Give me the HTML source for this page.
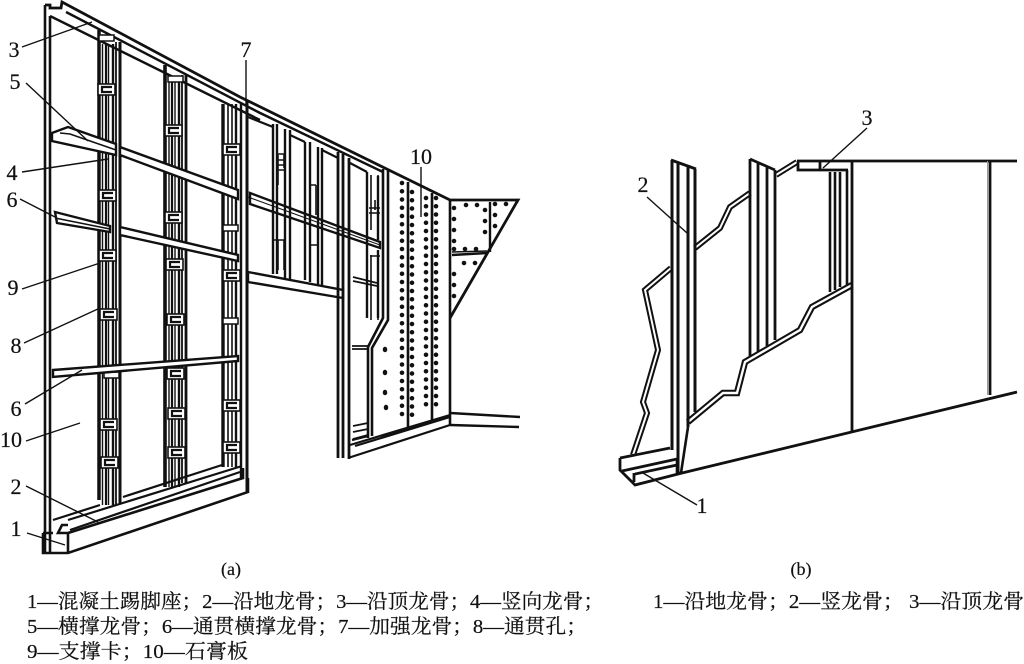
<!DOCTYPE html>
<html><head><meta charset="utf-8"><style>
html,body{margin:0;padding:0;background:#fff}
svg{display:block}
text{font-family:"Liberation Serif","Noto Serif CJK SC",serif;fill:#111;stroke:#111;stroke-width:.2}
</style></head><body>
<svg width="1024" height="664" viewBox="0 0 1024 664" xmlns="http://www.w3.org/2000/svg">
<defs>
<g id="c"><rect x="0" y="0" width="17" height="11" fill="#fff" stroke="#111" stroke-width="1.6"/><path d="M14 3H4V8H14" fill="none" stroke="#111" stroke-width="2.2"/></g>
<g id="d"><rect x="0" y="0" width="15" height="6" fill="#fff" stroke="#111" stroke-width="1.5"/></g>
</defs>
<rect width="1024" height="664" fill="#fff"/>
<g fill="none" stroke="#111">
<!-- left wall edge and top -->
<path d="M45 5V553M50 16V552" stroke-width="2.6"/>
<path d="M45 5H50V8H61L62 2L240 97L450 200H518L450 318" stroke-width="2.8"/>
<path d="M66 12L260 113L383 172" stroke-width="2.4"/>
<path d="M50 16L260 120" stroke-width="2.4"/>
<!-- stud 1 -->
<path d="M99 30V500" stroke-width="3.5"/><path d="M102.5 44V505M108.5 44V505" stroke-width="1.4"/><path d="M106 44V505" stroke-width="2.2"/><path d="M113 44V505" stroke-width="2.4"/><path d="M116 42V505" stroke-width="1.8"/><path d="M120 42V503" stroke-width="3"/>
<!-- stud 2 -->
<path d="M165 65V487" stroke-width="3.6"/><path d="M169 80V487M175 80V487" stroke-width="1.4"/><path d="M172 80V487" stroke-width="2.2"/><path d="M179 80V487" stroke-width="2.4"/><path d="M182 75V483" stroke-width="1.8"/><path d="M186 75V483" stroke-width="2.8"/>
<!-- stud 3 -->
<path d="M223 104V467" stroke-width="3.4"/><path d="M228 104V467M232 104V467" stroke-width="1.6"/><path d="M236 104V467" stroke-width="2.4"/><path d="M241 104V478" stroke-width="2.4"/><path d="M247 100V492" stroke-width="3"/>
</g>
<!-- clips -->
<use href="#d" x="99" y="35"/><use href="#c" x="98" y="84"/><use href="#c" x="99" y="190"/><use href="#c" x="99" y="250"/><use href="#c" x="100" y="309"/><use href="#d" x="104" y="372"/><use href="#c" x="100" y="419"/><use href="#c" x="101" y="457"/>
<use href="#d" x="168" y="76"/><use href="#c" x="165" y="125"/><use href="#c" x="165" y="212"/><use href="#c" x="166" y="259"/><use href="#c" x="167" y="314"/><use href="#c" x="167" y="368"/><use href="#c" x="168" y="408"/><use href="#c" x="168" y="447"/>
<use href="#c" x="223" y="144"/><use href="#d" x="223" y="225"/><use href="#c" x="223" y="270"/><use href="#d" x="223" y="318"/><use href="#c" x="223" y="400"/><use href="#c" x="223" y="442"/>
<!-- horizontal bars -->
<g fill="#fff" stroke="#111" stroke-width="2.4">
<path d="M68 127L116 144V155L52 141V133Z"/>
<path d="M120 147L238 190V199L120 155Z"/>
<path d="M55 212L110 226V232L57 223Z"/>
<path d="M120 227L238 255V261L120 235Z"/>
<path d="M53 370L238 356V361L53 377Z"/>
<path d="M250 193L380 242V248L250 204Z"/>
<path d="M248 272L343 290V298L248 282Z"/>
</g>
<g fill="none" stroke="#111">
<path d="M60 133L70 134L116 150M55 218L110 229" stroke-width="1.6"/>
<path d="M248 197L380 245" stroke-width="1"/>
<!-- bottom base -->
<path d="M43 533V553H68L248 492V478M68 553V533L243 478V468M43 533H53M68 533H58L62 525H68" stroke-width="2.6"/>
<path d="M53 520L100 505M123 497L222 465M68 520L242 466M70 530L240 472" stroke-width="2.2"/>
<!-- frame right -->
<g stroke-width="2.4">
<path d="M248 107L383 172" stroke-width="2"/>
<path d="M248 117L273 127M290 135L305 142M322 150L338 158M350 163L367 172" stroke-width="2.2"/>
<path d="M273 124V274M277 124V274M285 129V278M290 130V280M305 142V280M310 142V282M318 147V285M322 148V286"/>
<path d="M338 152V458M343 154V458" stroke-width="2.8"/><path d="M349 158V459" stroke-width="2.8"/>
<path d="M367 172V318M378 176V240M378 250V318"/>
<path d="M278 154H284V168M278 155V185M284 155V168M278 158V178M277 160H285M277 165H285M277 170H285M273 240H285M278 240V270M284 240V270" stroke-width="1.6"/>
<path d="M310 185H316M310 185V215M316 185V215M310 232V260M318 232V260M310 245H318" stroke-width="1.6"/>
<path d="M371 175V230M371 255V320M378 175V230M378 260V320M369 208H380M369 213H380M370 256H380M375 200V210" stroke-width="1.6"/>
<path d="M353 277L377 283M353 281L377 286M352 346H369M352 349H369M353 426L368 423M353 432L368 429M353 439L368 435" stroke-width="1.8"/>
</g>
<path d="M383 169V318L368 347V438M388 170V320L372 348V436" stroke-width="2.6"/>
<!-- board lines -->
<path d="M408 182V427M432 193V420M450 200V425" stroke-width="2.6"/>
<path d="M348 458L450 425M350 445L450 415M355 446L450 417M352 440L368 436" stroke-width="2.2"/>
<!-- right panel -->
<path d="M490 202V252M452 255L487 253" stroke-width="2.4"/>
<path d="M452 252L487 251" stroke-width="1.6"/>
<path d="M450 413L520 417M450 425L519 427" stroke-width="2.4"/>
</g>
<g stroke="#111" stroke-width="4.6" stroke-linecap="round" stroke-dasharray="0 8.25" fill="none">
<path d="M402 183V418M412 192V420M426 198V412M436 198V408"/>
<path d="M385 349V350M385 372V373M385 392V393M386 407V408" stroke-dasharray="none" stroke-width="4.4"/>
<path d="M466 205H486M454 208V242M485 210V242M454 249H486M495 204H507M495 215V235M464 263H484M454 274V305" stroke-dasharray="0 11"/>
</g>
<!-- leaders a -->
<g stroke="#111" stroke-width="1.4" fill="none">
<path d="M22 47L92 22M26 83L88 141M22 172L108 159M20 199L55 217M22 289L100 263M24 343L100 308M25 404L82 370M26 441L80 423M26 486L98 522M27 533L65 545M246 60V104M421 167V217"/>
<path d="M867 128L823 168M647 197L687 233M643 473L697 505"/>
</g>
<!-- figure b -->
<g fill="none" stroke="#111">
<path d="M633 455L647 413L643 402L658 350L645 290L671 268M695 248L720 228L730 207L750 193M776 175L797 162" stroke-width="6"/>
<path d="M633 455L647 413L643 402L658 350L645 290L671 268M695 248L720 228L730 207L750 193M776 175L797 162" stroke="#fff" stroke-width="2"/>
<path d="M688 422L723 393L737 393L745 362L800 330L812 307L852 285" stroke-width="6.5"/>
<path d="M688 422L723 393L737 393L745 362L800 330L812 307L852 285" stroke="#fff" stroke-width="2.4"/>
<path d="M671 160L696 169M672 160V450M678 163V474M688 167V427M695 169V412" stroke-width="3"/>
<path d="M688 427L681 473H677V460" stroke-width="2.6"/>
<path d="M750 159L775 170M750 159V356M758 162V352M767 166V346M775 170V340" stroke-width="2.8"/>
<path d="M830 172V292M835 172V290M840 172V287M847 170V285" stroke-width="2.6"/>
<path d="M797 161H1017M798 161V170H848M820 161V170" stroke-width="2.8"/>
<path d="M852 162V431M990 161V395" stroke-width="2.8"/>
<path d="M987.5 161V395" stroke="#999" stroke-width="1"/>
<path d="M620 458V470L635 485L682 473L1017 392M620 458L670 448M622 471L677 459M634 473V482M635 474L677 465" stroke-width="2.8"/>
</g>
<!-- labels -->
<g font-size="22" text-anchor="middle">
<text x="14" y="57">3</text><text x="15" y="89">5</text><text x="12" y="180">4</text><text x="12" y="207">6</text><text x="13" y="295">9</text><text x="16" y="353">8</text><text x="16" y="416">6</text><text x="11" y="447">10</text><text x="16" y="494">2</text><text x="16" y="536">1</text><text x="246" y="57">7</text><text x="421" y="164">10</text>
<text x="867" y="125">3</text><text x="643" y="192">2</text><text x="702" y="513">1</text>
</g>
<g font-size="20">
<text x="231" y="575" text-anchor="middle" font-size="18">(a)</text><text x="801" y="575" text-anchor="middle" font-size="18">(b)</text>
<text x="27" y="608" textLength="577" lengthAdjust="spacingAndGlyphs">1—混凝土踢脚座；2—沿地龙骨；3—沿顶龙骨；4—竖向龙骨；</text>
<text x="27" y="633" textLength="560" lengthAdjust="spacingAndGlyphs">5—横撑龙骨；6—通贯横撑龙骨；7—加强龙骨；8—通贯孔；</text>
<text x="27" y="658" textLength="221" lengthAdjust="spacingAndGlyphs">9—支撑卡；10—石膏板</text>
<text x="653" y="608" textLength="371" lengthAdjust="spacingAndGlyphs">1—沿地龙骨；2—竖龙骨； 3—沿顶龙骨</text>
</g>
</svg>
</body></html>
